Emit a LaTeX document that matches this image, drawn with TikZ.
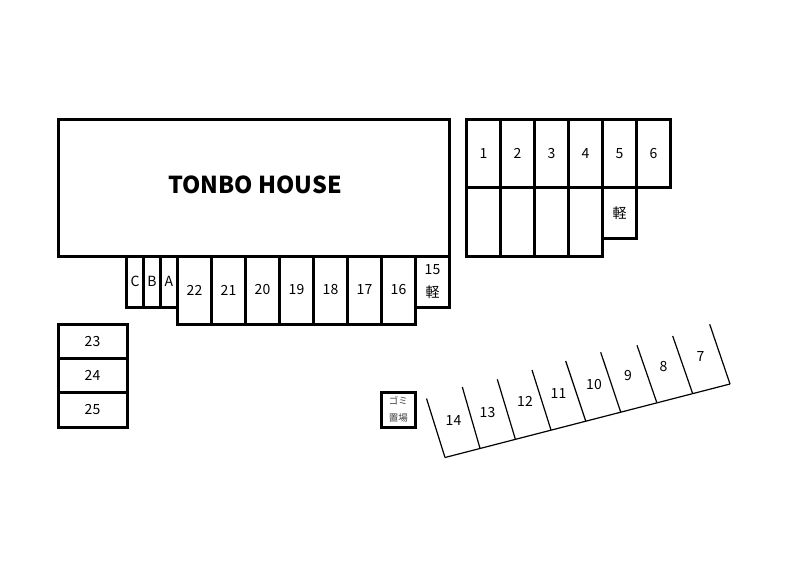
\documentclass[tikz,border=0pt]{standalone}
\usepackage{fontspec}
\setmainfont{Noto Sans CJK JP}
\usetikzlibrary{positioning}

\begin{document}
\begin{tikzpicture}[x=1pt,y=-1pt]
		\tikzstyle{stall} = [rectangle,draw=black,line width=3pt,outer sep=0pt,inner sep=0pt,font=\fontsize{14}{23}\selectfont,align=center]
		\tikzstyle{tall} = [stall,minimum width=34pt,minimum height=68pt]
		\tikzstyle{high} = [stall,minimum width=34pt,minimum height=68.5pt]
		\tikzstyle{short} = [stall,minimum width=17pt,minimum height=51pt]
		\tikzstyle{wide} = [stall,minimum width=69pt,minimum height=34.33pt]
		\tikzstyle{line} = [draw=black,line width=1.2pt]
		\tikzstyle{num} = [font=\fontsize{14}{15}\selectfont,inner sep=0pt]

		\useasboundingbox (0,0) rectangle (800,582);
		
		\node[stall,minimum width=391pt,minimum height=137pt,anchor=north west] (house) at (58,119) {};
		\node[inner sep=0pt,font=\fontsize{23.3}{25}\bfseries] (title) at (255,185) {TONBO HOUSE};
		
		\node[short,anchor=north west] (c) at (126.5,256) {C};
		\node[short,right=0pt of c] (b) {B};
		\node[short,right=0pt of b] (a) {A};
		\node[tall,anchor=north west] (s22) at (a.north east) {22};
		\node[tall,right=0pt of s22] (s21) {21};
		\node[tall,right=0pt of s21] (s20) {20};
		\node[tall,right=0pt of s20] (s19) {19};
		\node[tall,right=0pt of s19] (s18) {18};
		\node[tall,right=0pt of s18] (s17) {17};
		\node[tall,right=0pt of s17] (s16) {16};
		\node[stall,minimum width=34pt,minimum height=51pt,anchor=north west] (s15) at (s16.north east) {15\\軽};
		
		\node[wide,anchor=north west] (s23) at (58,324) {23};
		\node[wide,below=0pt of s23] (s24) {24};
		\node[wide,below=0pt of s24] (s25) {25};
		
		\node[high,anchor=north west] (s1) at (466.5,119) {1};
		\node[high,right=0pt of s1] (s2) {2};
		\node[high,right=0pt of s2] (s3) {3};
		\node[high,right=0pt of s3] (s4) {4};
		\node[high,right=0pt of s4] (s5) {5};
		\node[high,right=0pt of s5] (s6) {6};
		
		\node[high,below=0pt of s1] (l1) {};
		\node[high,below=0pt of s2] (l2) {};
		\node[high,below=0pt of s3] (l3) {};
		\node[high,below=0pt of s4] (l4) {};
		\node[stall,minimum width=34pt,minimum height=51pt,below=0pt of s5] (l5) {軽};
		
		\node[stall,minimum width=34.5pt,minimum height=35pt,anchor=north west,font=\fontsize{9.5}{17}\selectfont,text=black!75] (gomi) at (381,392) {ゴミ\\置場};
		
		\coordinate (t14) at (426.5,398.5);
		\coordinate (t13) at (462.3,387);
		\coordinate (t12) at (497.3,379.3);
		\coordinate (t11) at (532,370);
		\coordinate (t10) at (565.7,361);
		\coordinate (t9) at (600.7,352.3);
		\coordinate (t8) at (637,345.3);
		\coordinate (t7) at (672.7,336);
		\coordinate (t6) at (709.7,324.3);
		
		\coordinate (f14) at (445,457.5);
		\coordinate (f13) at (480,448.3);
		\coordinate (f12) at (515.3,439);
		\coordinate (f11) at (551,430);
		\coordinate (f10) at (585.7,421);
		\coordinate (f9) at (620.7,412);
		\coordinate (f8) at (656.7,402.3);
		\coordinate (f7) at (692.7,393.7);
		\coordinate (f6) at (730,384);
		
		\draw[line] (f14)--(f6);
		\draw[line] (t14)--(f14);
		\draw[line] (t13)--(f13);
		\draw[line] (t12)--(f12);
		\draw[line] (t11)--(f11);
		\draw[line] (t10)--(f10);
		\draw[line] (t9)--(f9);
		\draw[line] (t8)--(f8);
		\draw[line] (t7)--(f7);
		\draw[line] (t6)--(f6);
		
		\node[num] (n14) at (453.5,420) {14};
		\node[num] (n13) at (487.5,412) {13};
		\node[num] (n12) at (525,401) {12};
		\node[num] (n11) at (558.5,393) {11};
		\node[num] (n10) at (594,384) {10};
		\node[num] (n9) at (628,375.5) {9};
		\node[num] (n8) at (663.5,366) {8};
		\node[num] (n7) at (700.5,356) {7};
	\end{tikzpicture}
\end{document}
